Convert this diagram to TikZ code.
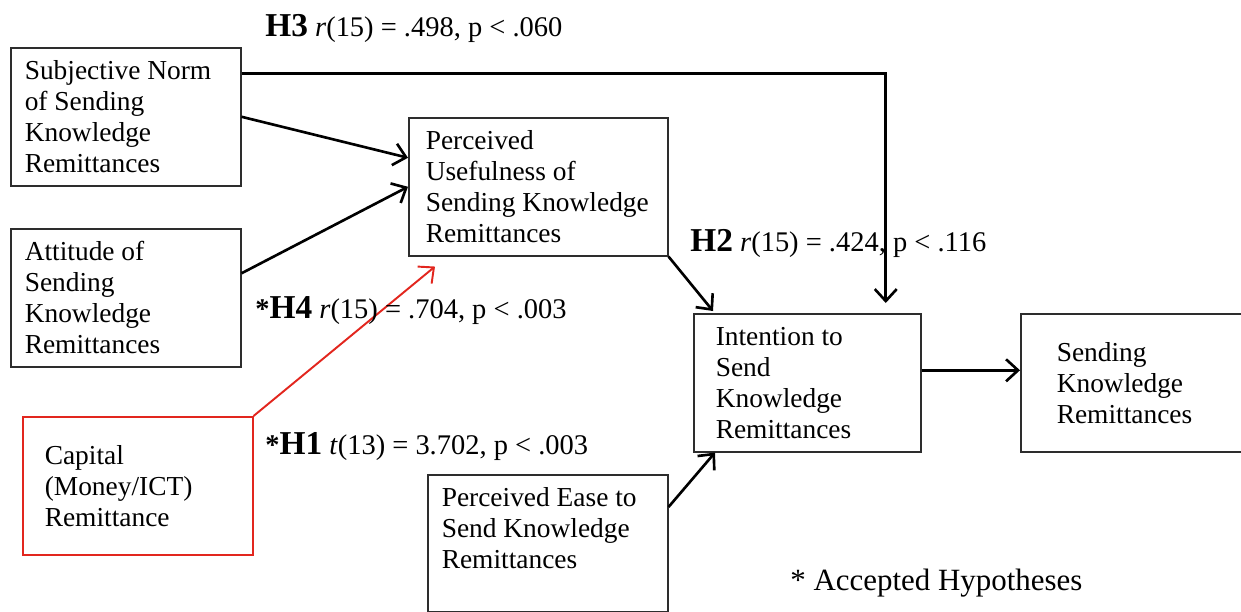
\documentclass[tikz,border=0pt]{standalone}
\usepackage{fontspec}
\setmainfont{Liberation Serif}
\usepackage{tikz}
\usetikzlibrary{arrows.meta, positioning, calc}
\usepackage{xcolor}
\definecolor{accred}{RGB}{226,38,30}
\definecolor{boxgray}{RGB}{45,45,45}
\newcommand{\boxfont}{\fontsize{15.6}{17.6}\selectfont}
\newcommand{\hyp}[1]{{\fontsize{19}{20}\selectfont\bfseries #1}}

\begin{document}
\begin{tikzpicture}[x={(0.02cm,0)}, y={(0,-0.02cm)},
  blk/.style={draw=boxgray, line width=0.9pt, align=flush left, anchor=north west,
    inner ysep=0pt, minimum height=2.76cm, font=\boxfont},
  conn/.style={line width=1.5pt, -{Straight Barb[length=0.24cm,width=0.44cm]}},
  lbl/.style={anchor=west, inner sep=0pt, font=\fontsize{16.2}{18}\selectfont}]
  \clip (0,0) rectangle (1241,612);
  % Boxes
  \node[blk, text width=4.04cm, inner xsep=0.28cm] (sn) at (10,47)
    {Subjective Norm\\ of Sending\\ Knowledge\\ Remittances};
  \node[blk, text width=4.04cm, inner xsep=0.28cm] (att) at (10,228)
    {Attitude of\\ Sending\\ Knowledge\\ Remittances};
  \node[blk, draw=accred, text width=3.72cm, inner xsep=0.44cm] (cap) at (22,416)
    {Capital\\ (Money/ICT)\\ Remittance};
  \node[blk, text width=4.5cm, inner xsep=0.34cm] (pu) at (408,117)
    {Perceived\\ Usefulness of\\ Sending Knowledge\\ Remittances};
  \node[blk, text width=4.24cm, inner xsep=0.28cm, minimum height=2.74cm] (pe) at (427,474)
    {Perceived Ease to\\ Send Knowledge\\ Remittances\\ \mbox{}};
  \node[blk, text width=3.66cm, inner xsep=0.44cm] (int) at (693,313)
    {Intention to\\ Send\\ Knowledge\\ Remittances};
  \node[blk, text width=3.5cm, inner xsep=0.72cm] (snd) at (1020,313)
    {Sending\\ Knowledge\\ Remittances};
  % Connectors
  \draw[conn] ([yshift=0.86cm]sn.east) -| ([xshift=1.57cm,yshift=0.2cm]int.north);
  \draw[conn] (sn.east) -- ([yshift=0.58cm]pu.west);
  \draw[conn] ([yshift=0.49cm]att.east) -- (pu.west);
  \draw[conn, accred, line width=1.1pt] (cap.north east) -- ([xshift=0.54cm,yshift=-0.2cm]pu.south west);
  \draw[conn] (pu.south east) -- ([xshift=0.4cm,yshift=0.04cm]int.north west);
  \draw[conn] ([yshift=-0.66cm]pe.north east) -- ([xshift=0.44cm]int.south west);
  \draw[conn] ([yshift=0.25cm]int.east) -- ([yshift=0.25cm]snd.west);
  % Statistics
  \node[lbl] (h3) at (265,28) {\hyp{H3} \textit{r}(15) = .498, p < .060};
  \node[lbl] (h2) at (690,243) {\hyp{H2} \textit{r}(15) = .424, p < .116};
  \node[lbl] (h4) at (255,311) {\textbf{*}\hyp{H4} \textit{r}(15) = .704, p < .003};
  \node[lbl] (h1) at (265,447) {\textbf{*}\hyp{H1} \textit{t}(13) = 3.702, p < .003};
  \node[lbl, font=\fontsize{17.6}{19}\selectfont] (note) at (790,583) {* Accepted Hypotheses};
\end{tikzpicture}
\end{document}
